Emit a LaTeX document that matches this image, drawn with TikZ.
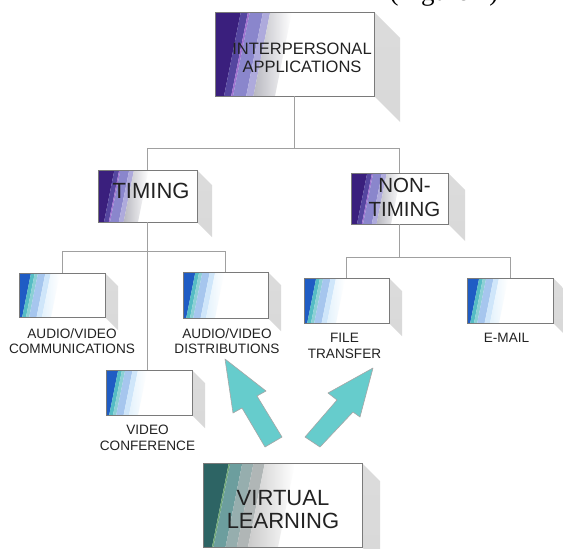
\documentclass[tikz,border=0pt]{standalone}
\usepackage{fontspec}
\setmainfont{Liberation Sans}
\newfontfamily\figfont{Liberation Serif}
\usetikzlibrary{calc}
\definecolor{pA}{HTML}{3A1F7D}
\definecolor{pB}{HTML}{5546A0}
\definecolor{pM}{HTML}{A070D0}
\definecolor{pC}{HTML}{8A86CC}
\definecolor{pD}{HTML}{AEAADC}
\definecolor{pF}{HTML}{B8B8C0}
\definecolor{bA}{HTML}{1F5CC4}
\definecolor{bB}{HTML}{55BCC4}
\definecolor{bC}{HTML}{8CD0D4}
\definecolor{bD}{HTML}{A6C6EE}
\definecolor{bE}{HTML}{CFE6FA}
\definecolor{bF}{HTML}{E4F2FC}
\definecolor{tA}{HTML}{2D6464}
\definecolor{tG}{HTML}{70A878}
\definecolor{tB}{HTML}{6C9E9E}
\definecolor{tC}{HTML}{96AEAE}
\definecolor{tD}{HTML}{B0B6B6}
\definecolor{tF}{HTML}{CACACA}
\definecolor{arrowteal}{HTML}{66CCCC}
\definecolor{linegray}{HTML}{A0A0A0}
\definecolor{boxline}{HTML}{7A7A7A}
\definecolor{txt}{HTML}{222222}
\newcommand\stripe[3]{\fill[#1] ({\Xa+(#2)*\W},\Yb) -- ({\Xa+(#3)*\W},\Yb) -- ({\Xa+(#3)*\W+\S},\Ya) -- ({\Xa+(#2)*\W+\S},\Ya) -- cycle;}
\newcommand\fadestripe[3]{\shade[left color=#1,right color=white] ({\Xa+(#2)*\W},\Yb) -- ({\Xa+(#3)*\W},\Yb) -- ({\Xa+(#3)*\W+\S},\Ya) -- ({\Xa+(#2)*\W+\S},\Ya) -- cycle;}
\newcommand\purplestripes{\stripe{pA}{-1}{0.15}\stripe{pB}{0.15}{0.27}\stripe{pM}{0.27}{0.30}\stripe{pC}{0.30}{0.52}\stripe{pD}{0.52}{0.64}\fadestripe{pF}{0.64}{1.0}}
\newcommand\bluestripes{\stripe{bA}{-1}{0.10}\stripe{bB}{0.10}{0.22}\stripe{bC}{0.22}{0.32}\stripe{bD}{0.32}{0.55}\stripe{bE}{0.55}{0.72}\fadestripe{bF}{0.72}{1.0}}
\newcommand\tealstripes{\stripe{tA}{-1}{0.12}\stripe{tG}{0.12}{0.14}\stripe{tB}{0.14}{0.30}\stripe{tC}{0.30}{0.45}\stripe{tD}{0.45}{0.60}\fadestripe{tF}{0.60}{1.0}}
% #1 name, #2 x1, #3 y1, #4 x2, #5 y2, #6 shadow depth, #7 stripes macro, #8 band width
\newcommand\gbox[8]{%
  \def\Xa{#2}\def\Ya{#3}\def\Xb{#4}\def\Yb{#5}\def\W{#8}%
  \pgfmathsetmacro\S{0.2*(#5-#3)}%
  \shade[shadowshade] (#4,#3) -- ({#4+#6},{#3+#6}) -- ({#4+#6},{#5+#6}) -- (#4,#5) -- cycle;
  \fill[white] (#2,#3) rectangle (#4,#5);
  \begin{scope}
    \clip (#2,#3) rectangle (#4,#5);
    #7
  \end{scope}
  \node[boxnode, minimum width={(#4-#2)*1pt}, minimum height={(#5-#3)*1pt}] (#1) at ({(#2+#4)/2},{(#3+#5)/2}) {};
}
\begin{document}
\begin{tikzpicture}[x=1pt,y=-1pt,
  shadowshade/.style={top color=gray!28, middle color=gray!68, bottom color=gray!30},
  boxnode/.style={draw=boxline, line width=0.9pt, inner sep=0pt, outer sep=0pt},
  conn/.style={draw=linegray, line width=1pt},
  boxtext/.style={text=txt, align=center, inner sep=0pt},
  lab/.style={text=txt, align=center, inner sep=0pt, anchor=north, font=\fontsize{13.6}{15.5}\selectfont},
  bigarrow/.style={fill=arrowteal, draw=gray!70, line width=0.6pt, line join=round}]
\useasboundingbox (0,0) rectangle (563,549);
\fill[white] (0,0) rectangle (563,549);

% cropped caption remnant (only its lowest part shows)
\node[anchor=south, inner sep=0pt, text=black, font=\figfont\fontsize{27}{30}\selectfont] (fig) at (444,7) {(Figure 1)};

% boxes
\gbox{top}{215}{12}{374}{96}{26}{\purplestripes}{60}
\gbox{timing}{98}{170}{197}{222}{15}{\purplestripes}{40}
\gbox{nontiming}{351}{173}{448}{224}{17}{\purplestripes}{40}
\gbox{avcomm}{19}{273}{105}{317}{13}{\bluestripes}{32}
\gbox{avdist}{183}{272}{268}{318}{13}{\bluestripes}{32}
\gbox{vc}{106}{370}{192}{415}{13}{\bluestripes}{32}
\gbox{ft}{304}{278}{389}{323}{13}{\bluestripes}{32}
\gbox{email}{467}{278}{553}{323}{13}{\bluestripes}{32}
\gbox{virtual}{203}{463}{362}{547}{18}{\tealstripes}{75}

% box texts
\node[boxtext, font=\fontsize{16.5}{18}\selectfont] (topt) at ($(top.center)+(7.5,4)$) {INTERPERSONAL\\APPLICATIONS};
\node[boxtext, font=\fontsize{22}{24}\selectfont] (timingt) at ($(timing.center)+(3.5,-5.5)$) {TIMING};
\node[boxtext, font=\fontsize{20.5}{24}\selectfont] (nontimingt) at ($(nontiming.center)+(5,-1)$) {NON-\\TIMING};
\node[boxtext, font=\fontsize{22}{23}\selectfont] (virtualt) at ($(virtual.center)+(0.5,5)$) {VIRTUAL\\LEARNING};

% labels under boxes
\node[lab] (avcomml) at ($(avcomm.south)+(10,11)$) {AUDIO/VIDEO\\COMMUNICATIONS};
\node[lab] (avdistl) at ($(avdist.south)+(1.5,10)$) {AUDIO/VIDEO\\DISTRIBUTIONS};
\node[lab] (vcl) at ($(vc.south)+(-1.5,10)$) {VIDEO\\CONFERENCE};
\node[lab] (ftl) at ($(ft.south)+(-2,10)$) {FILE\\TRANSFER};
\node[lab] (emaill) at ($(email.south)+(-3.5,10)$) {E-MAIL};

% tree connectors
\draw[conn] (top.south) -- ++(0,52);
\draw[conn] (timing.north) -- ++(0,-22) -| (nontiming.north);
\draw[conn] (timing.south) -- (timing.south |- vc.north);
\draw[conn] (avcomm.north) -- ++(0,-22) -| (avdist.north);
\draw[conn] (nontiming.south) -- ++(0,33);
\draw[conn] (ft.north) -- ++(0,-21) -| (email.north);

% block arrows from VIRTUAL LEARNING
\path[bigarrow] (225,359) -- (266,391) -- (257,396) -- (282,437) -- (265,447) -- (242,408) -- (233,413) -- cycle;
\path[bigarrow] (373,368) -- (360,417) -- (353,412) -- (320,447) -- (305,437) -- (337,400) -- (328,393) -- cycle;
\end{tikzpicture}
\end{document}
